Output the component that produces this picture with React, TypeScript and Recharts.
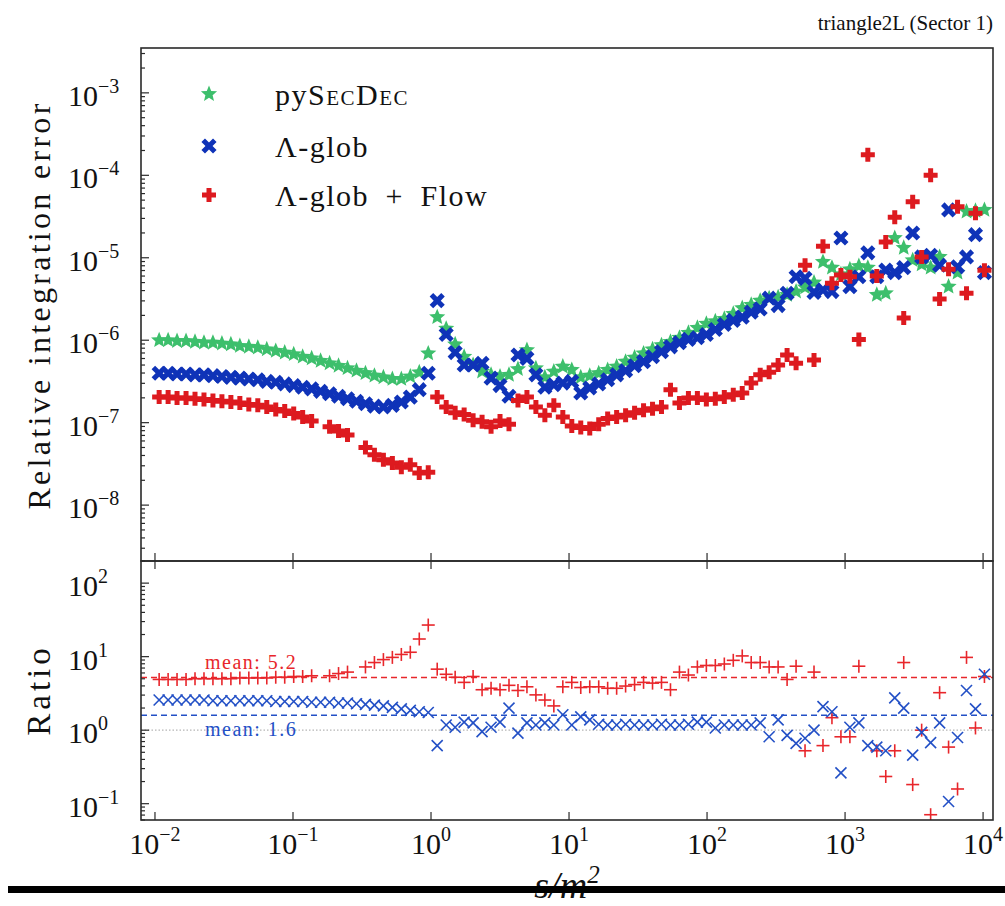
import React from 'react';
import { ScatterChart, Scatter, XAxis, YAxis, ReferenceLine, Legend } from 'recharts';

const W = 1005;
const H = 906;
const LEFT = 141;
const RIGHT = 993;
const TOP = 48;
const MID = 561;
const BOTTOM = 820;
const SERIF = '"Liberation Serif", "DejaVu Serif", serif';
const FRAME = '#2a2a2a';

const GREEN = '#3dbf6c';
const BLUE = '#0f33b8';
const RED = '#dd1a1f';
const RATIO_RED = '#e8262b';
const RATIO_BLUE = '#2350c6';

// s/m^2 sample points
const sValues = [
  0.01072, 0.01245, 0.01445, 0.01679, 0.0195, 0.02265, 0.0263, 0.03055, 0.03548, 0.04121,
  0.04786, 0.05559, 0.06457, 0.07499, 0.0871, 0.1012, 0.1175, 0.1365, 0.1585, 0.1841,
  0.2138, 0.2483, 0.2884, 0.335, 0.389, 0.4519, 0.5248, 0.6095, 0.7079, 0.8222,
  0.955, 1.109, 1.288, 1.496, 1.738, 2.018, 2.344, 2.723, 3.162, 3.673,
  4.266, 4.955, 5.754, 6.683, 7.762, 9.016, 10.47, 12.16, 14.13, 16.41,
  19.05, 22.13, 25.7, 29.85, 34.67, 40.27, 46.77, 54.33, 63.1, 73.28,
  85.11, 98.86, 114.8, 133.4, 154.9, 179.9, 208.9, 242.7, 281.8, 327.3,
  380.2, 441.6, 512.9, 595.7, 691.8, 803.5, 933.3, 1084, 1259, 1462,
  1698, 1972, 2291, 2661, 3090, 3589, 4169, 4842, 5623, 6531,
  7586, 8810, 10230,
];

// relative integration error, stored as log10 of the value
const pySecDecLog = [
  -6.0, -6.0, -6.01, -6.01, -6.02, -6.03, -6.03, -6.04, -6.05, -6.07,
  -6.08, -6.09, -6.11, -6.13, -6.15, -6.17, -6.2, -6.22, -6.25, -6.28,
  -6.31, -6.34, -6.37, -6.4, -6.43, -6.45, -6.47, -6.47, -6.44, -6.39,
  -6.16, -5.72, -5.86, -6.05, -6.2, -6.3, -6.38, -6.42, -6.44, -6.42,
  -6.35, -6.12, -6.34, -6.45, -6.38, -6.32, -6.36, -6.45, -6.43, -6.4,
  -6.36, -6.32, -6.26, -6.21, -6.16, -6.11, -6.06, -6.02, -5.97, -5.91,
  -5.85, -5.8, -5.77, -5.74, -5.68, -5.61, -5.57, -5.52, -5.49, -5.48,
  -5.45, -5.41, -5.36, -5.3, -5.05, -5.12, -5.2, -5.14, -5.1, -5.12,
  -5.45, -5.43, -4.76, -4.88, -5.03, -5.08, -5.12, -4.99, -5.35, -5.18,
  -4.44, -4.43, -4.42,
];

const lambdaGlobLog = [
  -6.4, -6.4, -6.41, -6.41, -6.42, -6.42, -6.43, -6.44, -6.45, -6.46,
  -6.47, -6.48, -6.5, -6.51, -6.53, -6.55, -6.57, -6.59, -6.62, -6.65,
  -6.68, -6.71, -6.74, -6.77, -6.8, -6.81, -6.79, -6.75, -6.69, -6.6,
  -6.4, -5.52, -5.93, -6.15, -6.3, -6.3, -6.28, -6.46, -6.55, -6.68,
  -6.18, -6.22, -6.42, -6.57, -6.54, -6.52, -6.5, -6.64, -6.58, -6.53,
  -6.48, -6.42, -6.37, -6.31, -6.26, -6.2, -6.14, -6.08, -6.03, -5.99,
  -5.97, -5.93, -5.87, -5.81, -5.76, -5.72, -5.66, -5.62, -5.49, -5.58,
  -5.43, -5.23, -5.25, -5.42, -5.39, -5.41, -4.76, -5.35, -5.23, -4.94,
  -5.23, -5.15, -5.18, -5.12, -4.7, -4.99, -4.97, -5.09, -4.42, -5.11,
  -4.99, -4.72, -5.18,
];

// null = no point plotted
const lambdaFlowLog = [
  -6.69, -6.69, -6.7, -6.7, -6.71, -6.72, -6.73, -6.74, -6.75, -6.76,
  -6.78, -6.79, -6.81, -6.84, -6.86, -6.89, -6.93, -6.98, null, -7.05,
  -7.1, -7.15, null, -7.3, -7.39, -7.45, -7.49, -7.54, -7.51, -7.61,
  -7.6, -6.69, -6.81, -6.88, -6.9, -6.97, -6.99, -7.05, -6.98, -7.02,
  -6.73, -6.69, -6.81, -6.91, -6.79, -6.93, -7.04, -7.06, -7.07, -7.02,
  -6.95, -6.93, -6.91, -6.88, -6.85, -6.83, -6.81, -6.6, -6.76, -6.7,
  -6.7, -6.72, -6.71, -6.69, -6.66, -6.64, -6.52, -6.42, -6.39, -6.3,
  -6.18, -6.28, -5.09, -6.24, -4.86, -5.31, -5.21, -5.23, -5.99, -3.75,
  -5.22, -4.81, -4.51, -5.73, -4.32, -4.99, -4.0, -5.5, -5.14, -4.38,
  -5.43, -4.46, -5.15,
];

// ratio panel, log10 of the ratio
const ratioGlobLog = [
  0.41, 0.41, 0.41, 0.41, 0.41, 0.41, 0.4, 0.4, 0.4, 0.4,
  0.4, 0.4, 0.4, 0.39, 0.39, 0.39, 0.39, 0.38, 0.38, 0.38,
  0.37, 0.37, 0.36, 0.35, 0.34, 0.33, 0.31, 0.29, 0.27, 0.25,
  0.24, -0.21, 0.07, 0.04, 0.11, 0.1, -0.02, 0.04, 0.11, 0.3,
  -0.04, 0.1, 0.07, 0.1, 0.07, 0.21, 0.07, 0.18, 0.14, 0.08,
  0.07, 0.07, 0.08, 0.07, 0.07, 0.07, 0.08, 0.07, 0.07, 0.08,
  0.11, 0.11, 0.03, 0.07, 0.07, 0.07, 0.07, 0.1, -0.09, 0.14,
  -0.07, -0.18, -0.11, 0.0, 0.32, 0.25, -0.58, 0.04, 0.1, -0.21,
  -0.23, -0.28, 0.44, 0.3, -0.34, -0.03, -0.17, 0.1, -0.97, -0.1,
  0.54, 0.29, 0.76,
];

const ratioFlowLog = [
  0.69, 0.69, 0.69, 0.69, 0.7, 0.7, 0.7, 0.7, 0.7, 0.71,
  0.71, 0.71, 0.71, 0.72, 0.72, 0.73, 0.73, 0.74, null, 0.74,
  0.77, 0.79, null, 0.86, 0.92, 0.96, 0.99, 1.03, 1.06, 1.24,
  1.43, 0.83, 0.76, 0.72, 0.65, 0.73, 0.55, 0.57, 0.55, 0.61,
  0.54, 0.59, 0.48, 0.41, 0.33, 0.59, 0.65, 0.58, 0.59, 0.59,
  0.57, 0.57, 0.6, 0.62, 0.65, 0.64, 0.65, 0.55, 0.79, 0.75,
  0.86, 0.88, 0.88, 0.9, 0.95, 1.01, 0.92, 0.92, 0.86, 0.86,
  0.69, 0.87, -0.28, 0.79, -0.21, 0.17, -0.09, -0.09, 0.87, null,
  -0.28, -0.63, -0.28, 0.92, -0.74, 0.0, -1.15, 0.51, -0.23, -0.8,
  0.99, 0.03, 0.73,
];

const MEAN_FLOW = 5.2;
const MEAN_GLOB = 1.6;

const xTicks = [0.01, 0.1, 1, 10, 100, 1000, 10000];
const errorDecades = [1e-9, 1e-8, 1e-7, 1e-6, 1e-5, 1e-4, 1e-3];
const ratioDecades = [0.01, 0.1, 1, 10, 100];
const minorSteps = [2, 3, 4, 5, 6, 7, 8, 9];

const X_DOMAIN: [number, number] = [0.00792, 11800];
const ERR_DOMAIN: [number, number] = [2.1e-9, 3.5e-3];
const RATIO_DOMAIN: [number, number] = [0.06, 200];

function withMinors(decades: number[], domain: [number, number]) {
  const out: number[] = [];
  decades.forEach((d) => {
    out.push(d);
    minorSteps.forEach((m) => out.push(d * m));
  });
  return out.filter((v) => v >= domain[0] && v <= domain[1]).sort((a, b) => a - b);
}

const errTicks = withMinors(errorDecades, ERR_DOMAIN);
const ratioTicks = withMinors(ratioDecades, RATIO_DOMAIN);

function toPoints(logs: (number | null)[]) {
  const pts: { x: number; y: number }[] = [];
  logs.forEach((v, i) => {
    if (v !== null) pts.push({ x: sValues[i], y: Math.pow(10, v) });
  });
  return pts;
}

const pySecDecData = toPoints(pySecDecLog);
const globData = toPoints(lambdaGlobLog);
const flowData = toPoints(lambdaFlowLog);
const ratioGlobData = toPoints(ratioGlobLog);
const ratioFlowData = toPoints(ratioFlowLog);

const isMajor = (v: number) => {
  const l = Math.log10(v);
  return Math.abs(l - Math.round(l)) < 1e-6;
};
const supText = (v: number) => String(Math.round(Math.log10(v))).replace('-', '\u2212');

// marker shapes
function starPath(cx: number, cy: number, R: number, r: number) {
  let d = '';
  for (let i = 0; i < 10; i++) {
    const a = -Math.PI / 2 + (i * Math.PI) / 5;
    const rad = i % 2 === 0 ? R : r;
    d += (i ? 'L' : 'M') + (cx + rad * Math.cos(a)).toFixed(2) + ' ' + (cy + rad * Math.sin(a)).toFixed(2);
  }
  return d + 'Z';
}

function plusPath(cx: number, cy: number, a: number, w: number) {
  const p = [
    [-w, -a], [w, -a], [w, -w], [a, -w], [a, w], [w, w],
    [w, a], [-w, a], [-w, w], [-a, w], [-a, -w], [-w, -w],
  ];
  return p.map((q, i) => (i ? 'L' : 'M') + (cx + q[0]) + ' ' + (cy + q[1])).join('') + 'Z';
}

const StarMark = (p: any) => <path d={starPath(p.cx, p.cy, 8.5, 3.8)} fill={GREEN} />;
const XMark = (p: any) => (
  <path d={plusPath(p.cx, p.cy, 8.2, 2.5)} fill={BLUE} transform={`rotate(45 ${p.cx} ${p.cy})`} />
);
const PMark = (p: any) => <path d={plusPath(p.cx, p.cy, 7, 2.5)} fill={RED} />;
const ThinPlus = (p: any) => (
  <g stroke={RATIO_RED} strokeWidth={1.6}>
    <line x1={p.cx - 6.5} x2={p.cx + 6.5} y1={p.cy} y2={p.cy} />
    <line x1={p.cx} x2={p.cx} y1={p.cy - 6.5} y2={p.cy + 6.5} />
  </g>
);
const ThinX = (p: any) => (
  <g stroke={RATIO_BLUE} strokeWidth={1.6}>
    <line x1={p.cx - 5.5} x2={p.cx + 5.5} y1={p.cy - 5.5} y2={p.cy + 5.5} />
    <line x1={p.cx - 5.5} x2={p.cx + 5.5} y1={p.cy + 5.5} y2={p.cy - 5.5} />
  </g>
);

// ticks (drawn inward, matplotlib style)
const PowerLabel = ({ x, y, v, anchor }: { x: number; y: number; v: number; anchor: string }) => (
  <text x={x} y={y} fontSize={30} fontFamily={SERIF} fill="#111" textAnchor={anchor}>
    10
    <tspan dy={-13} fontSize={20}>
      {supText(v)}
    </tspan>
  </text>
);

const ErrorYTick = (props: any) => {
  const { y, payload } = props;
  const major = isMajor(payload.value);
  return (
    <g>
      <line x1={LEFT} x2={LEFT + (major ? 8 : 4)} y1={y} y2={y} stroke={FRAME} strokeWidth={1.2} />
      {major && <PowerLabel x={68} y={y + 13} v={payload.value} anchor="start" />}
    </g>
  );
};

const ErrorXTick = (props: any) => (
  <line x1={props.x} x2={props.x} y1={MID} y2={MID - 8} stroke={FRAME} strokeWidth={1.2} />
);

const RatioXTick = (props: any) => {
  const { x, payload } = props;
  return (
    <g>
      <line x1={x} x2={x} y1={MID} y2={MID + 8} stroke={FRAME} strokeWidth={1.2} />
      <line x1={x} x2={x} y1={BOTTOM} y2={BOTTOM - 8} stroke={FRAME} strokeWidth={1.2} />
      <PowerLabel x={x} y={854} v={payload.value} anchor="middle" />
    </g>
  );
};

const meanLabel = (text: string, color: string, dy: number) => (props: any) => {
  const vb = props.viewBox || {};
  const y = vb.y ?? vb.y1 ?? 0;
  return (
    <text x={LEFT + 64} y={y + dy} fill={color} fontSize={20} fontFamily={SERIF} letterSpacing={1.5}>
      {text}
    </text>
  );
};

const ErrorLegend = () => (
  <svg width={360} height={150}>
    <path d={starPath(29, 24, 8.5, 3.8)} fill={GREEN} />
    <text x={95} y={35} fontSize={30} fontFamily={SERIF} fill="#111" letterSpacing={1.5}>
      py<tspan fontVariant="small-caps">SecDec</tspan>
    </text>
    <path d={plusPath(29, 76, 8.2, 2.5)} fill={BLUE} transform="rotate(45 29 76)" />
    <text x={95} y={87} fontSize={30} fontFamily={SERIF} fill="#111" letterSpacing={1.5}>
      Λ-glob
    </text>
    <path d={plusPath(29, 125, 7, 2.5)} fill={RED} />
    <text x={95} y={136} fontSize={30} fontFamily={SERIF} fill="#111" letterSpacing={1.5}>
      {'Λ-glob\u2002+\u2002Flow'}
    </text>
  </svg>
);

export default function App() {
  return (
    <div style={{ position: 'absolute', left: 0, top: 0, width: W, height: H, background: '#fff', overflow: 'hidden' }}>
      <div style={{ position: 'absolute', left: 0, top: 0 }}>
        <ScatterChart width={W} height={H} margin={{ top: TOP, right: W - RIGHT, bottom: H - MID - 30, left: LEFT - 60 }}>
          <XAxis
            type="number"
            dataKey="x"
            scale="log"
            domain={X_DOMAIN}
            allowDataOverflow
            ticks={xTicks}
            interval={0}
            tick={<ErrorXTick />}
            tickLine={false}
            axisLine={false}
            tickSize={0}
            tickMargin={0}
            height={30}
          />
          <YAxis
            type="number"
            dataKey="y"
            scale="log"
            domain={ERR_DOMAIN}
            allowDataOverflow
            ticks={errTicks}
            interval={0}
            tick={<ErrorYTick />}
            tickLine={false}
            axisLine={false}
            tickSize={0}
            tickMargin={0}
            width={60}
          />
          <Legend
            layout="vertical"
            align="center"
            verticalAlign="middle"
            content={() => <ErrorLegend />}
            wrapperStyle={{ left: 180, top: 70, width: 360, height: 150 }}
          />
          <Scatter name="pySecDec" data={pySecDecData} shape={StarMark} isAnimationActive={false} />
          <Scatter name="Λ-glob" data={globData} shape={XMark} isAnimationActive={false} />
          <Scatter name="Λ-glob + Flow" data={flowData} shape={PMark} isAnimationActive={false} />
        </ScatterChart>
      </div>
      <div style={{ position: 'absolute', left: 0, top: 0 }}>
        <ScatterChart width={W} height={H} margin={{ top: MID, right: W - RIGHT, bottom: H - BOTTOM - 30, left: LEFT - 60 }}>
          <XAxis
            type="number"
            dataKey="x"
            scale="log"
            domain={X_DOMAIN}
            allowDataOverflow
            ticks={xTicks}
            interval={0}
            tick={<RatioXTick />}
            tickLine={false}
            axisLine={false}
            tickSize={0}
            tickMargin={0}
            height={30}
          />
          <YAxis
            type="number"
            dataKey="y"
            scale="log"
            domain={RATIO_DOMAIN}
            allowDataOverflow
            ticks={ratioTicks}
            interval={0}
            tick={<ErrorYTick />}
            tickLine={false}
            axisLine={false}
            tickSize={0}
            tickMargin={0}
            width={60}
          />
          <ReferenceLine y={1} stroke="#b5b5b5" strokeWidth={1.2} strokeDasharray="1.5 2" />
          <ReferenceLine
            y={MEAN_FLOW}
            stroke={RATIO_RED}
            strokeWidth={1.5}
            strokeDasharray="6 4"
            label={meanLabel('mean: 5.2', RATIO_RED, -9)}
          />
          <ReferenceLine
            y={MEAN_GLOB}
            stroke={RATIO_BLUE}
            strokeWidth={1.5}
            strokeDasharray="6 4"
            label={meanLabel('mean: 1.6', RATIO_BLUE, 21)}
          />
          <Scatter name="ratio flow" data={ratioFlowData} shape={ThinPlus} isAnimationActive={false} />
          <Scatter name="ratio glob" data={ratioGlobData} shape={ThinX} isAnimationActive={false} />
        </ScatterChart>
      </div>
      <svg width={W} height={H} style={{ position: 'absolute', left: 0, top: 0, pointerEvents: 'none' }}>
        <rect x={LEFT} y={TOP} width={RIGHT - LEFT} height={MID - TOP} fill="none" stroke={FRAME} strokeWidth={1.6} />
        <rect x={LEFT} y={MID} width={RIGHT - LEFT} height={BOTTOM - MID} fill="none" stroke={FRAME} strokeWidth={1.6} />
        <text x={RIGHT} y={30} textAnchor="end" fontSize={21} fontFamily={SERIF} fill="#111">
          triangle2L (Sector 1)
        </text>
        <text
          transform="translate(50 305) rotate(-90)"
          textAnchor="middle"
          fontSize={32}
          fontFamily={SERIF}
          fill="#111"
          letterSpacing={3.3}
        >
          Relative integration error
        </text>
        <text
          transform="translate(50 690) rotate(-90)"
          textAnchor="middle"
          fontSize={33}
          fontFamily={SERIF}
          fill="#111"
          letterSpacing={4}
        >
          Ratio
        </text>
        <text x={567} y={898} textAnchor="middle" fontSize={38} fontFamily={SERIF} fontStyle="italic" fill="#111">
          s/m<tspan dy={-15} fontSize={25}>2</tspan>
        </text>
        <rect x={8} y={886} width={W - 8} height={7} fill="#000" />
      </svg>
    </div>
  );
}
